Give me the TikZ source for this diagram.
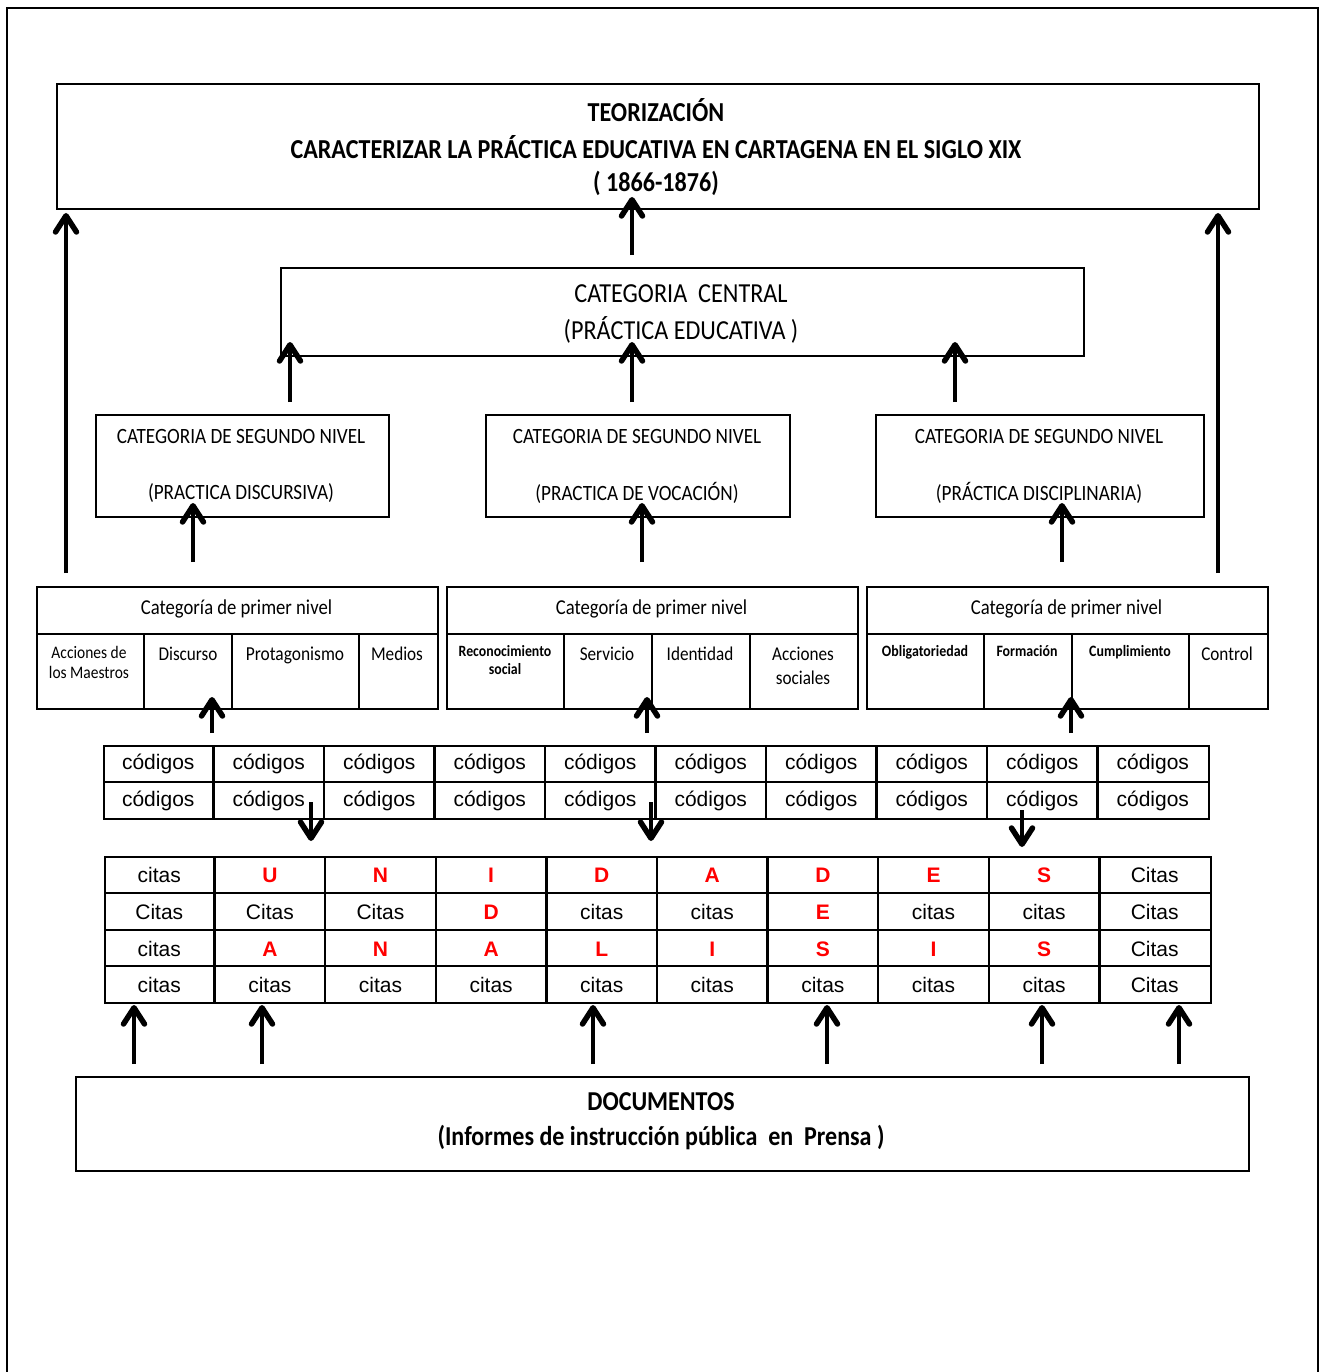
\documentclass[tikz,border=0pt]{standalone}
\usepackage{fontspec}
\setmainfont{Carlito}[FakeStretch=0.88]
\newfontfamily\arialf{Liberation Sans}
\usetikzlibrary{arrows.meta,calc}
\newcommand\redl[1]{\textcolor{red}{\bfseries #1}}
\newcommand\fs[1]{\fontsize{#1}{#1}\selectfont}
\pgfdeclarearrow{
  name = Chev,
  parameters = {\the\pgfarrowlength,\the\pgfarrowwidth},
  setup code = {
    \pgfarrowssettipend{0pt}
    \pgfarrowssetlineend{-5pt}
    \pgfarrowsupperhullpoint{0pt}{0pt}
    \pgfarrowsupperhullpoint{-\pgfarrowlength}{.5\pgfarrowwidth}
  },
  drawing code = {
    \pgfsetlinewidth{5.5pt}
    \pgfsetroundcap
    \pgfsetroundjoin
    \pgfpathmoveto{\pgfpoint{-\pgfarrowlength}{.5\pgfarrowwidth}}
    \pgfpathlineto{\pgfpoint{-2.75pt}{0pt}}
    \pgfpathlineto{\pgfpoint{-\pgfarrowlength}{-.5\pgfarrowwidth}}
    \pgfusepathqstroke
  },
  defaults = {length=16pt, width=24pt}
}
\tikzset{
  box/.style={draw, line width=2pt, anchor=north west, inner sep=0pt},
  gridline/.style={line width=2.5pt},
  arr/.style={line width=4.5pt, -{Chev[length=19pt, width=21pt]}},
  txt/.style={inner sep=0pt, align=center},
  tcell/.style={inner sep=0pt, font=\arialf\fs{21}},
}
\begin{document}
\begin{tikzpicture}[x=1pt,y=-1pt]
\useasboundingbox (0,0) rectangle (1320,1372);
\fill[white] (0,0) rectangle (1320,1372);
% outer frame (open at bottom)
\draw[line width=2pt] (7,1372) -- (7,8) -- (1318,8) -- (1318,1372);

% ---- top box
\node[box, minimum width=1202pt, minimum height=125pt] (teo) at (56,83) {};
\node[txt, font=\bfseries\fs{27.4}] (teo1) at (656,110) {TEORIZACIÓN};
\node[txt, font=\bfseries\fs{27.4}] (teo2) at (656,147) {CARACTERIZAR LA PRÁCTICA EDUCATIVA EN CARTAGENA EN EL SIGLO XIX};
\node[txt, font=\bfseries\fs{27.4}] (teo3) at (656,183) {( 1866-1876)};

% ---- central box
\node[box, minimum width=803pt, minimum height=88pt] (cen) at (280,267) {};
\node[txt, font=\fs{27.5}] (cen1) at (681,294) {CATEGORIA\ \ CENTRAL};
\node[txt, font=\fs{27.5}] (cen2) at (681,330) {(PRÁCTICA EDUCATIVA )};

% ---- second level boxes
\node[box, minimum width=293pt, minimum height=102pt] (s1) at (95,414) {};
\node[box, minimum width=304pt, minimum height=102pt] (s2) at (485,414) {};
\node[box, minimum width=328pt, minimum height=102pt] (s3) at (875,414) {};
\node[txt, font=\fs{21.8}] (s1a) at (241,437) {CATEGORIA DE SEGUNDO NIVEL};
\node[txt, font=\fs{21.8}] (s1b) at (241,493) {(PRACTICA DISCURSIVA)};
\node[txt, font=\fs{21.8}] (s2a) at (637,437) {CATEGORIA DE SEGUNDO NIVEL};
\node[txt, font=\fs{21.8}] (s2b) at (637,493) {(PRACTICA DE VOCACIÓN)};
\node[txt, font=\fs{21.8}] (s3a) at (1039,437) {CATEGORIA DE SEGUNDO NIVEL};
\node[txt, font=\fs{21.8}] (s3b) at (1039,493) {(PRÁCTICA DISCIPLINARIA)};

% ---- first level tables
\foreach \n/\l/\r/\a/\b/\c in {1/36/437/144/232/359, 2/446/857/564/652/750, 3/866/1267/984/1072/1189}{
  \node[box, minimum width=\r pt-\l pt, minimum height=122pt] (p\n) at (\l,586) {};
  \draw[gridline] (\l,634) -- (\r,634);
  \draw[gridline] (\a,634) -- (\a,708);
  \draw[gridline] (\b,634) -- (\b,708);
  \draw[gridline] (\c,634) -- (\c,708);
  \node[txt, font=\fs{21.2}] (p\n h) at ({(\l+\r)/2},609) {Categoría de primer nivel};
}
% cell texts table 1
\node[txt, font=\fs{17.6}, anchor=north] (c11) at (89,646) {Acciones de\\[2pt]los Maestros};
\node[txt, font=\fs{19.5}, anchor=north] (c12) at (188,647) {Discurso};
\node[txt, font=\fs{19.8}, anchor=north] (c13) at (295,647) {Protagonismo};
\node[txt, font=\fs{19.5}, anchor=north] (c14) at (397,647) {Medios};
% table 2
\node[txt, font=\bfseries\fs{15.7}, anchor=north] (c21) at (505,645) {Reconocimiento\\[3pt]social};
\node[txt, font=\fs{19.5}, anchor=north] (c22) at (607,647) {Servicio};
\node[txt, font=\fs{19.5}, anchor=north] (c23) at (700,647) {Identidad};
\node[txt, font=\fs{19.5}, anchor=north] (c24) at (803,647) {Acciones\\[4pt]sociales};
% table 3
\node[txt, font=\bfseries\fs{15.8}, anchor=north] (c31) at (925,645) {Obligatoriedad};
\node[txt, font=\bfseries\fs{15.8}, anchor=north] (c32) at (1027,645) {Formación};
\node[txt, font=\bfseries\fs{15.8}, anchor=north] (c33) at (1130,645) {Cumplimiento};
\node[txt, font=\fs{19.5}, anchor=north] (c34) at (1227,647) {Control};

% ---- codigos table
\node[box, minimum width=1105pt, minimum height=73pt] (cod) at (103,745) {};
\draw[gridline] (103,782) -- (1208,782);
\foreach \i in {1,...,9}{ \draw[gridline] ({103+\i*110.5},745) -- ({103+\i*110.5},818); }
\foreach \i in {0,...,9}{
  \node[tcell] (cod1-\i) at ({103+(\i+0.5)*110.5},764) {códigos};
  \node[tcell] (cod2-\i) at ({103+(\i+0.5)*110.5},801) {códigos};
}

% ---- citas table
\node[box, minimum width=1106pt, minimum height=146pt] (cit) at (104,856) {};
\foreach \y in {893,930,966}{ \draw[gridline] (104,\y) -- (1210,\y); }
\foreach \i in {1,...,9}{ \draw[gridline] ({104+\i*110.6},856) -- ({104+\i*110.6},1002); }
\foreach \t [count=\i from 0] in {citas,\redl{U},\redl{N},\redl{I},\redl{D},\redl{A},\redl{D},\redl{E},\redl{S},Citas}{
  \node[tcell] (ca-\i) at ({104+(\i+0.5)*110.6},875) {\t}; }
\foreach \t [count=\i from 0] in {Citas,Citas,Citas,\redl{D},citas,citas,\redl{E},citas,citas,Citas}{
  \node[tcell] (cb-\i) at ({104+(\i+0.5)*110.6},912) {\t}; }
\foreach \t [count=\i from 0] in {citas,\redl{A},\redl{N},\redl{A},\redl{L},\redl{I},\redl{S},\redl{I},\redl{S},Citas}{
  \node[tcell] (cc-\i) at ({104+(\i+0.5)*110.6},949) {\t}; }
\foreach \t [count=\i from 0] in {citas,citas,citas,citas,citas,citas,citas,citas,citas,Citas}{
  \node[tcell] (cd-\i) at ({104+(\i+0.5)*110.6},985) {\t}; }

% ---- documentos box
\node[box, minimum width=1173pt, minimum height=94pt] (doc) at (75,1076) {};
\node[txt, font=\bfseries\fs{27.3}] (doc1) at (661,1102) {DOCUMENTOS};
\node[txt, font=\bfseries\fs{27.3}] (doc2) at (661,1138) {(Informes de instrucción pública\ \ en\ \ Prensa )};

% ---- arrows
\draw[arr] (p1.north -| 66,0) ++(0,-13) -- (66,213);
\draw[arr] (p3.north -| 1218,0) ++(0,-13) -- (1218,213);
\draw[arr] (cen.north -| 632,0) ++(0,-12) -- (632,197);
\draw[arr] (s1.north -| 290,0) ++(0,-12) -- (290,342);
\draw[arr] (s2.north -| 632,0) ++(0,-12) -- (632,342);
\draw[arr] (s3.north -| 955,0) ++(0,-12) -- (955,342);
\draw[arr] (p1.north -| 193,0) ++(0,-24) -- (193,503);
\draw[arr] (p2.north -| 642,0) ++(0,-24) -- (642,503);
\draw[arr] (p3.north -| 1062,0) ++(0,-24) -- (1062,503);
\draw[arr] (cod.north -| 212,0) ++(0,-12) -- (212,697);
\draw[arr] (cod.north -| 647,0) ++(0,-12) -- (647,697);
\draw[arr] (cod.north -| 1071,0) ++(0,-12) -- (1071,697);
\draw[arr] (cod.south -| 311,0) ++(0,-18) -- (311,841);
\draw[arr] (cod.south -| 651,0) ++(0,-18) -- (651,841);
\draw[arr] (cod.south -| 1022,0) ++(0,-10) -- (1022,847);
\foreach \x in {134,262,593,827,1042,1179}{
  \draw[arr] (doc.north -| \x,0) ++(0,-12) -- (\x,1005);
}
\end{tikzpicture}
\end{document}
